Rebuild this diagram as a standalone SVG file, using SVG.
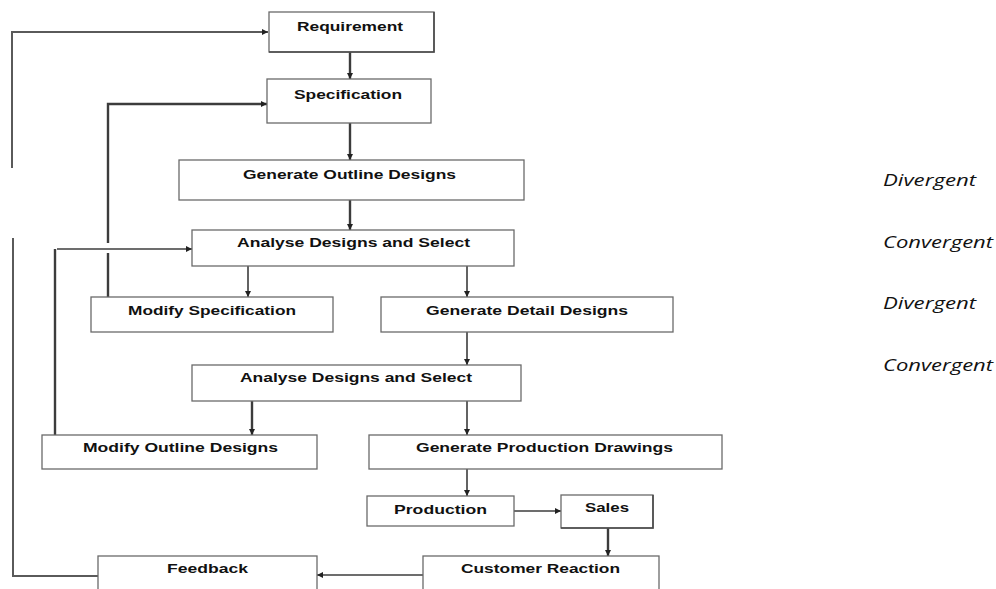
<svg xmlns="http://www.w3.org/2000/svg" width="996" height="589" viewBox="0 0 996 589">
<defs>
<style>
.box{fill:#fff;stroke:#6a6a6a;stroke-width:1.3}
.sh{fill:none;stroke:#4a4a4a;stroke-width:1.6}
.t{font-family:"Liberation Sans",Arial,sans-serif;font-size:12.5px;font-weight:bold;fill:#111;text-anchor:middle}
.lbl{font-family:"Open Sans","Noto Sans",sans-serif;font-style:italic;font-size:16px;fill:#111}
.c{fill:none;stroke:#3c3c3c;stroke-width:1.6}
.c2{fill:none;stroke:#3c3c3c;stroke-width:2.4}
.f{fill:none;stroke:#5a5a5a;stroke-width:2}
</style>
<marker id="a" viewBox="0 0 8 8" refX="8" refY="4" markerWidth="6" markerHeight="6" markerUnits="userSpaceOnUse" orient="auto">
<path d="M0,0 L8,4 L0,8 Z" fill="#222"/>
</marker>
</defs>
<rect width="996" height="589" fill="#fff"/>
<g id="connectors">
<path class="c2" d="M350,52 V79" marker-end="url(#a)"/>
<path class="c2" d="M350,123 V160" marker-end="url(#a)"/>
<path class="c2" d="M350,200 V230" marker-end="url(#a)"/>
<path class="c" d="M248,266 V297" marker-end="url(#a)"/>
<path class="c" d="M467,266 V297" marker-end="url(#a)"/>
<path class="c" d="M467,332 V365" marker-end="url(#a)"/>
<path class="c2" d="M252,401 V435" marker-end="url(#a)"/>
<path class="c" d="M467,401 V435" marker-end="url(#a)"/>
<path class="c" d="M467,469 V496" marker-end="url(#a)"/>
<path class="c" d="M514,511 H561" marker-end="url(#a)"/>
<path class="c2" d="M608,528 V556" marker-end="url(#a)"/>
<path class="c" d="M423,575 H317" marker-end="url(#a)"/>
<path class="f" d="M12,168 V32 H268" marker-end="url(#a)"/>
<path class="f" d="M13,238 V576 H98"/>
<path class="c2" d="M108,297 V253 M108,243 V104 H267" marker-end="url(#a)"/>
<path class="c2" d="M55,435 V249"/>
<path class="c" d="M57,249 H192" marker-end="url(#a)"/>
</g>
<g id="requirement"><rect class="box" x="269" y="12" width="165" height="40"/><path class="sh" d="M269,52 H434 V12"/><text class="t" x="350" y="31" textLength="106" lengthAdjust="spacingAndGlyphs">Requirement</text></g>
<g id="specification"><rect class="box" x="267" y="79" width="164" height="44"/><text class="t" x="348" y="99" textLength="108" lengthAdjust="spacingAndGlyphs">Specification</text></g>
<g id="generate-outline"><rect class="box" x="179" y="160" width="345" height="40"/><text class="t" x="349.5" y="179" textLength="213" lengthAdjust="spacingAndGlyphs">Generate Outline Designs</text></g>
<g id="analyse1"><rect class="box" x="192" y="230" width="322" height="36"/><text class="t" x="353.5" y="247" textLength="233" lengthAdjust="spacingAndGlyphs">Analyse Designs and Select</text></g>
<g id="modify-spec"><rect class="box" x="91" y="297" width="242" height="35"/><text class="t" x="212" y="315" textLength="168" lengthAdjust="spacingAndGlyphs">Modify Specification</text></g>
<g id="generate-detail"><rect class="box" x="381" y="297" width="292" height="35"/><text class="t" x="527" y="315" textLength="202" lengthAdjust="spacingAndGlyphs">Generate Detail Designs</text></g>
<g id="analyse2"><rect class="box" x="192" y="365" width="329" height="36"/><text class="t" x="356" y="382" textLength="232" lengthAdjust="spacingAndGlyphs">Analyse Designs and Select</text></g>
<g id="modify-outline"><rect class="box" x="42" y="435" width="275" height="34"/><text class="t" x="180.5" y="452" textLength="195" lengthAdjust="spacingAndGlyphs">Modify Outline Designs</text></g>
<g id="generate-production"><rect class="box" x="369" y="435" width="353" height="34"/><text class="t" x="544.5" y="452" textLength="257" lengthAdjust="spacingAndGlyphs">Generate Production Drawings</text></g>
<g id="production"><rect class="box" x="367" y="496" width="147" height="30"/><text class="t" x="440.5" y="514" font-size="14" textLength="93" lengthAdjust="spacingAndGlyphs">Production</text></g>
<g id="sales"><rect class="box" x="561" y="495" width="92" height="33"/><path class="sh" d="M561,528 H653 V495"/><text class="t" x="607" y="512" textLength="44" lengthAdjust="spacingAndGlyphs">Sales</text></g>
<g id="customer-reaction"><rect class="box" x="423" y="556" width="236" height="40"/><text class="t" x="540.5" y="573" textLength="159" lengthAdjust="spacingAndGlyphs">Customer Reaction</text></g>
<g id="feedback"><rect class="box" x="98" y="556" width="219" height="40"/><text class="t" x="207.5" y="573" textLength="81" lengthAdjust="spacingAndGlyphs">Feedback</text></g>
<g id="labels">
<text class="lbl" x="883" y="186" textLength="93" lengthAdjust="spacingAndGlyphs">Divergent</text>
<text class="lbl" x="883" y="248" textLength="110" lengthAdjust="spacingAndGlyphs">Convergent</text>
<text class="lbl" x="883" y="309" textLength="93" lengthAdjust="spacingAndGlyphs">Divergent</text>
<text class="lbl" x="883" y="371" textLength="110" lengthAdjust="spacingAndGlyphs">Convergent</text>
</g>
</svg>
